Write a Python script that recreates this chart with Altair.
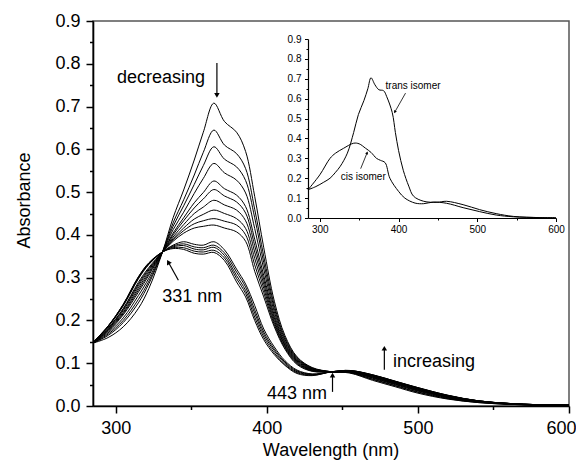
import altair as alt
import pandas as pd

# ---------------- main chart data ----------------
wavelengths = [285, 295, 305, 315, 322, 331, 338, 345, 352, 358, 365, 372, 380, 386, 392,
               398, 405, 412, 420, 430, 443, 455, 470, 485, 500, 520, 540, 560, 580, 600]

c01 = [.147, .160, .185, .228, .275, .360, .440, .505, .575, .640, .708, .665, .640, .595, .490,
       .370, .245, .165, .115, .090, .080, .077, .060, .045, .030, .016, .008, .004, .002, .001]
c02 = [.147, .165, .195, .241, .286, .360, .428, .482, .540, .593, .645, .610, .590, .555, .460,
       .350, .235, .160, .113, .089, .080, .078, .062, .047, .032, .017, .008, .004, .002, .001]
c03 = [.147, .168, .200, .249, .292, .360, .420, .468, .518, .562, .606, .577, .559, .527, .440,
       .335, .228, .156, .111, .088, .080, .078, .063, .048, .033, .018, .009, .004, .002, .001]
c04 = [.147, .171, .206, .258, .299, .360, .412, .453, .497, .532, .567, .545, .528, .498, .415,
       .320, .220, .152, .109, .087, .080, .079, .065, .050, .035, .019, .009, .005, .002, .001]
c05 = [.147, .174, .213, .266, .306, .360, .404, .440, .475, .499, .526, .508, .493, .466, .390,
       .305, .212, .148, .107, .086, .080, .079, .066, .051, .036, .020, .010, .005, .002, .001]
c06 = [.147, .176, .216, .271, .310, .360, .400, .433, .463, .484, .506, .491, .477, .451, .375,
       .295, .206, .145, .105, .085, .080, .080, .067, .052, .037, .021, .010, .005, .002, .001]
c07 = [.147, .178, .219, .276, .314, .360, .395, .424, .450, .465, .481, .470, .458, .433, .360,
       .285, .200, .142, .103, .084, .080, .080, .068, .053, .038, .021, .010, .005, .003, .002]
c08 = [.147, .179, .223, .281, .318, .360, .391, .416, .437, .448, .458, .450, .438, .415, .345,
       .275, .195, .139, .101, .083, .080, .081, .069, .054, .039, .022, .011, .005, .003, .002]
c09 = [.148, .181, .226, .285, .321, .360, .388, .410, .426, .433, .438, .432, .423, .400, .330,
       .265, .190, .136, .099, .082, .080, .081, .070, .055, .040, .022, .011, .005, .003, .002]
c10 = [.148, .182, .228, .289, .324, .360, .385, .404, .416, .420, .423, .416, .407, .385, .315,
       .255, .185, .133, .097, .081, .080, .081, .070, .055, .040, .023, .011, .006, .003, .002]
c11 = [.148, .185, .234, .297, .331, .360, .376, .384, .378, .376, .384, .365, .320, .285, .235,
       .180, .138, .106, .084, .075, .080, .082, .072, .057, .042, .024, .012, .006, .003, .002]
c12 = [.148, .186, .236, .299, .332, .360, .374, .379, .372, .370, .376, .358, .313, .278, .225,
       .173, .133, .103, .082, .074, .080, .082, .072, .057, .042, .024, .012, .006, .003, .002]
c13 = [.148, .186, .236, .300, .333, .360, .372, .375, .367, .365, .371, .352, .305, .270, .217,
       .167, .129, .100, .080, .073, .080, .083, .072, .057, .042, .024, .012, .006, .003, .002]
c14 = [.149, .187, .237, .301, .334, .360, .370, .370, .362, .360, .364, .346, .298, .263, .208,
       .161, .124, .097, .078, .072, .080, .083, .073, .058, .043, .025, .012, .006, .003, .002]
c15 = [.149, .187, .238, .302, .335, .360, .368, .366, .357, .355, .359, .340, .290, .255, .200,
       .155, .120, .095, .076, .071, .080, .083, .073, .058, .043, .025, .012, .006, .003, .002]

curves = [c01, c02, c03, c04, c05, c06, c07, c08, c09, c10, c11, c12, c13, c14, c15]

# ---------------- inset data ----------------
trans_wl = [285, 295, 305, 313, 320, 326, 335, 343, 349, 356, 361, 365, 370, 375, 381, 385,
            392, 396, 400, 406, 413, 419, 432, 449, 461, 482, 503, 524, 546, 579, 600]
trans_abs = [.142, .158, .180, .200, .230, .260, .326, .430, .520, .590, .650, .705, .670, .645,
             .640, .610, .530, .430, .340, .240, .160, .110, .084, .079, .084, .067, .042, .022,
             .008, .002, .001]
cis_wl = [285, 300, 313, 320, 330, 343, 350, 358, 365, 372, 377, 383, 389, 400, 408, 421, 432,
          444, 461, 482, 503, 524, 546, 580, 600]
cis_abs = [.142, .217, .300, .326, .350, .376, .373, .351, .330, .300, .290, .278, .200, .134,
           .100, .075, .072, .080, .074, .052, .032, .015, .006, .002, .001]

# ---------------- annotations ----------------
main_labels = ["decreasing", "331 nm", "443 nm", "increasing"]
main_label_wl = [300.9, 330.8, 400.1, 483.5]
main_label_a = [0.754, 0.243, 0.0173, 0.091]

arrow_wl = [367.0, 341.5, 443.5, 477.8]
arrow_a = [0.802, 0.294, 0.033, 0.085]
arrow_wl2 = [367.0, 334.8, 443.5, 477.8]
arrow_a2 = [0.726, 0.3365, 0.072, 0.135]
arrow_angle = [180, 331, 0, 0]

inset_labels = ["trans isomer", "cis isomer"]
inset_label_wl = [383.5, 326.6]
inset_label_a = [0.65, 0.19]
inset_arrow_wl = [408.9, 351.9]
inset_arrow_a = [0.628, 0.248]
inset_arrow_wl2 = [395.3, 360.1]
inset_arrow_a2 = [0.533, 0.328]
inset_arrow_angle = [209.6, 22.5]

# ---------------- tables ----------------
rows = []
for i, s in enumerate(curves):
    for w, a in zip(wavelengths, s):
        rows.append({"wl": w, "a": a, "s": i})
main_df = pd.DataFrame(rows)

inset_df = pd.concat([
    pd.DataFrame({"wl": trans_wl, "a": trans_abs, "s": "trans"}),
    pd.DataFrame({"wl": cis_wl, "a": cis_abs, "s": "cis"}),
])

mlab_df = pd.DataFrame({"wl": main_label_wl, "a": main_label_a, "t": main_labels})
marr_df = pd.DataFrame({"wl": arrow_wl, "a": arrow_a, "wl2": arrow_wl2, "a2": arrow_a2,
                        "ang": arrow_angle})
ilab_df = pd.DataFrame({"wl": inset_label_wl, "a": inset_label_a, "t": inset_labels})
iarr_df = pd.DataFrame({"wl": inset_arrow_wl, "a": inset_arrow_a, "wl2": inset_arrow_wl2,
                        "a2": inset_arrow_a2, "ang": inset_arrow_angle})

FONT = "Liberation Sans"
W, H = 476, 385

# ---------------- scales & axes ----------------
xs_main = alt.Scale(domain=[285, 600], nice=False, zero=False)
ys_main = alt.Scale(domain=[0, 0.9], nice=False, zero=False)
xs_in = alt.Scale(domain=[285, 600], nice=False, zero=False, range=[215, 463])
ys_in = alt.Scale(domain=[0, 0.9], nice=False, zero=False, range=[197, 18])

xvals = [300, 350, 400, 450, 500, 550, 600]
yvals = [round(i * 0.05, 2) for i in range(19)]

x_axis_main = alt.Axis(
    title="Wavelength (nm)", values=xvals,
    labelExpr="datum.value % 100 == 0 ? datum.label : ''",
    tickSize={"condition": {"test": "datum.value % 100 != 0", "value": 3.5}, "value": 7},
    labelFontSize=18, titleFontSize=18, labelPadding=6,
    titleX=237.5, titleY=49.5, titleBaseline="alphabetic", titleAlign="center",
    labelFlush=1, labelFlushOffset=7, labelOverlap=False, grid=False)
y_axis_main = alt.Axis(
    title="Absorbance", values=yvals,
    labelExpr="round(datum.value * 100) % 10 == 0 ? format(datum.value, '.1f') : ''",
    tickSize={"condition": {"test": "round(datum.value * 100) % 10 != 0", "value": 3.5}, "value": 7},
    labelFontSize=18, titleFontSize=18, labelPadding=6,
    titleX=-63.7, titleY=179, titleAngle=270, titleBaseline="alphabetic", titleAlign="center",
    labelFlush=False, labelOverlap=False, grid=False)

x_axis_in = alt.Axis(
    title=None, orient="bottom", offset=-188, values=xvals,
    labelExpr="datum.value % 100 == 0 ? datum.label : ''",
    tickSize={"condition": {"test": "datum.value % 100 != 0", "value": 2}, "value": 3.5},
    labelFontSize=10, labelPadding=3, labelFlush=False, labelOverlap=False, grid=False,
    domainWidth=1.2, tickWidth=1)
y_axis_in = alt.Axis(
    title=None, orient="left", offset=-215, values=yvals,
    labelExpr="round(datum.value * 100) % 10 == 0 ? format(datum.value, '.1f') : ''",
    tickSize={"condition": {"test": "round(datum.value * 100) % 10 != 0", "value": 2}, "value": 3.5},
    labelFontSize=10, labelPadding=3.5, labelFlush=False, labelOverlap=False, grid=False,
    domainWidth=1.2, tickWidth=1)


def mx(f="wl"):
    return alt.X(f"{f}:Q", scale=xs_main, axis=x_axis_main)


def my(f="a"):
    return alt.Y(f"{f}:Q", scale=ys_main, axis=y_axis_main)


def ix(f="wl"):
    return alt.X(f"{f}:Q", scale=xs_in, axis=x_axis_in)


def iy(f="a"):
    return alt.Y(f"{f}:Q", scale=ys_in, axis=y_axis_in)


# ---------------- main layers ----------------
main_lines = alt.Chart(main_df).mark_line(
    color="black", strokeWidth=1, interpolate="catmull-rom"
).encode(x=mx(), y=my(), detail="s:N", order="wl:Q")

main_text = alt.Chart(mlab_df).mark_text(
    font=FONT, fontSize=18, align="left", baseline="alphabetic", color="black"
).encode(x=mx(), y=my(), text="t:N")

main_rules = alt.Chart(marr_df).mark_rule(color="black", strokeWidth=1.2).encode(
    x=mx(), y=my(), x2="wl2:Q", y2="a2:Q")

main_heads = alt.Chart(marr_df).mark_point(
    shape="triangle-up", filled=True, color="black", size=30, opacity=1, strokeWidth=0
).encode(x=mx("wl2"), y=my("a2"), angle=alt.Angle("ang:Q", scale=None))

main_layer = alt.layer(main_lines, main_text, main_rules, main_heads)

# ---------------- inset layers ----------------
inset_lines = alt.Chart(inset_df).mark_line(
    color="black", strokeWidth=1, interpolate="catmull-rom"
).encode(x=ix(), y=iy(), detail="s:N", order="wl:Q")

inset_text = alt.Chart(ilab_df).mark_text(
    font=FONT, fontSize=10, align="left", baseline="alphabetic", color="black"
).encode(x=ix(), y=iy(), text="t:N")

inset_rules = alt.Chart(iarr_df).mark_rule(color="black", strokeWidth=0.8).encode(
    x=ix(), y=iy(), x2="wl2:Q", y2="a2:Q")

inset_heads = alt.Chart(iarr_df).mark_point(
    shape="triangle-up", filled=True, color="black", size=10, opacity=1, strokeWidth=0
).encode(x=ix("wl2"), y=iy("a2"), angle=alt.Angle("ang:Q", scale=None))

inset_layer = alt.layer(inset_lines, inset_text, inset_rules, inset_heads)

chart = alt.layer(main_layer, inset_layer).resolve_scale(
    x="independent", y="independent"
).properties(
    width=W, height=H,
    autosize=alt.AutoSizeParams(type="none"),
    padding={"left": 85, "top": 13, "right": 7, "bottom": 54},
).configure_view(
    stroke="#555", strokeWidth=1.5
).configure_axis(
    labelFont=FONT, titleFont=FONT, labelColor="black", titleColor="black",
    domainColor="black", tickColor="black", domainWidth=1.6, tickWidth=1.5,
    titleFontWeight="normal"
)

chart.save("out.html", embed_options={"renderer": "svg", "actions": False})
